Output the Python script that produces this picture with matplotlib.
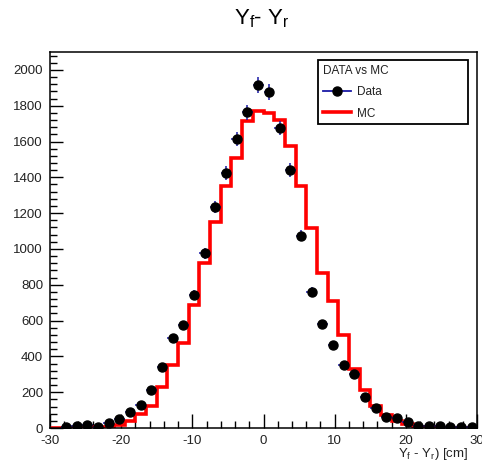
import numpy as np
import matplotlib
matplotlib.use("Agg")
import matplotlib.pyplot as plt
from matplotlib.lines import Line2D
from matplotlib.ticker import MultipleLocator

plt.rcParams['font.family'] = ['Liberation Sans', 'DejaVu Sans']
plt.rcParams['mathtext.fontset'] = 'custom'
plt.rcParams['mathtext.rm'] = 'Liberation Sans'
plt.rcParams['mathtext.it'] = 'Liberation Sans:italic'
plt.rcParams['mathtext.default'] = 'regular'
plt.rcParams['axes.unicode_minus'] = False

# ---- data ----
x_min, x_max, n_bins = -30.0, 30.0, 40
data_counts = [0, 8, 12, 15, 6, 30, 50, 91, 128, 212,
               339, 501, 576, 743, 975, 1234, 1424, 1615, 1763, 1917,
               1878, 1675, 1442, 1075, 762, 580, 464, 352, 302, 175,
               110, 60, 54, 35, 13, 13, 13, 5, 3, 5]
mc_counts = [0, 0, 1, 2, 3, 6, 17, 39, 76, 125,
             231, 352, 477, 686, 924, 1148, 1353, 1508, 1716, 1768,
             1759, 1718, 1574, 1353, 1116, 868, 712, 520, 328, 212,
             125, 73, 39, 20, 8, 4, 2, 1, 1, 0]
title = r"Y$_{f}$- Y$_{r}$"
x_label = r"Y$_{f}$ - Y$_{r}$) [cm]"
legend_title = "DATA vs MC"
labels = ["Data", "MC"]

edges = np.linspace(x_min, x_max, n_bins + 1)
centers = 0.5 * (edges[:-1] + edges[1:])
half_w = 0.5 * (edges[1] - edges[0])
data = np.array(data_counts, dtype=float)
mc = np.array(mc_counts, dtype=float)

W, H = 482, 469
fig = plt.figure(figsize=(W / 100, H / 100), dpi=100)
ax = fig.add_axes([50 / W, (H - 428) / H, 427 / W, 376 / H])

ax.stairs(mc, edges, color='#ff0000', linewidth=2.6, baseline=0, zorder=2)

mask = data > 0
ax.errorbar(centers[mask], data[mask], yerr=np.sqrt(data[mask]), xerr=half_w,
            fmt='o', color='black', ecolor='#1a1aa6', elinewidth=1.1,
            markersize=6.5, capsize=0, zorder=3)

ax.set_xlim(x_min, x_max)
ax.set_ylim(0, 2100)
ax.xaxis.set_major_locator(MultipleLocator(10))
ax.xaxis.set_minor_locator(MultipleLocator(2))
ax.yaxis.set_major_locator(MultipleLocator(200))
ax.yaxis.set_minor_locator(MultipleLocator(40))
ax.tick_params(which='both', direction='in', labelsize=9.5, colors='black',
               width=1.0)
ax.tick_params(which='major', length=9, pad=5)
ax.tick_params(which='minor', length=5)
ax.tick_params(axis='x', which='major', length=10)
ax.tick_params(axis='x', which='minor', length=5)
for lab in ax.get_xticklabels() + ax.get_yticklabels():
    lab.set_color('#222222')
for sp in ax.spines.values():
    sp.set_linewidth(1.1)

fig.text(262 / W, 1 - 19 / H, title, ha='center', va='center', fontsize=16)
fig.text(468 / W, 1 - 454 / H, x_label, ha='right', va='center', fontsize=9.5,
         color='#222222')

handles = [Line2D([], [], color='#1a1aa6', marker='o', markerfacecolor='black',
                  markeredgecolor='black', markersize=6.5, linewidth=1.3),
           Line2D([], [], color='#ff0000', linewidth=2.6)]
leg_top = (428 - 60) / 376
leg_h = (122 - 60) / 376
leg = ax.legend(handles, labels, title=legend_title, loc='upper left',
                bbox_to_anchor=((318 - 50) / 427, leg_top - leg_h,
                                (468 - 318) / 427, leg_h),
                mode='expand', borderaxespad=0, fontsize=8.5,
                title_fontsize=8.5, alignment='left', fancybox=False,
                framealpha=1, edgecolor='black', handlelength=2.4,
                handletextpad=0.5, borderpad=0.4, labelspacing=0.8,
                frameon=True)
leg.get_frame().set_linewidth(1.3)
for t in leg.get_texts():
    t.set_color('#222222')
leg.get_title().set_color('#222222')

fig.savefig("out.png", dpi=100)
